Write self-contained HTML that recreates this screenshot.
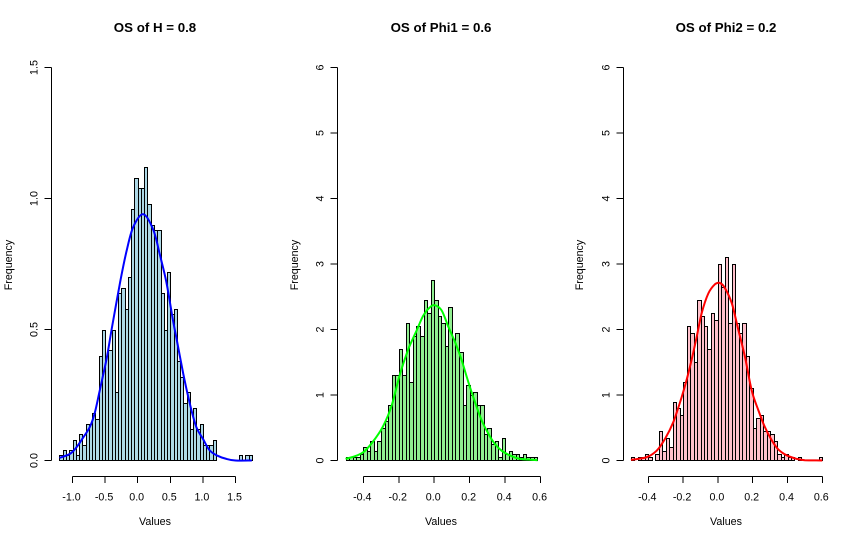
<!DOCTYPE html>
<html>
<head>
<meta charset="utf-8">
<title>OS histograms</title>
<style>
html,body{margin:0;padding:0;background:#fff;}
svg{display:block;}
text{font-family:"Liberation Sans",Arial,sans-serif;fill:#000;}
</style>
</head>
<body>
<svg id="chart" xmlns="http://www.w3.org/2000/svg" width="857" height="541" viewBox="0 0 857 541"></svg>
<script>
var hStartBin = -1.2;
var hBinWidth = 0.05;
var hValues = [0.02,0.04,0.02,0.04,0.08,0.02,0.10,0.06,0.14,0.14,0.18,0.16,0.40,0.50,0.40,0.42,0.50,0.26,0.64,0.66,0.58,0.70,0.96,1.08,1.04,1.04,1.12,0.98,0.90,0.88,0.88,0.64,0.50,0.72,0.56,0.58,0.38,0.32,0.22,0.26,0.12,0.20,0.12,0.14,0.06,0.06,0.06,0.08,0,0,0,0,0,0,0,0.02,0,0.02,0.02];
var hCurveX = [-1.2,-1.04,-0.94,-0.83,-0.73,-0.655,-0.58,-0.476,-0.4,-0.27,-0.17,-0.07,0.086,0.24,0.34,0.44,0.545,0.6,0.7,0.8,0.9,1.0,1.1,1.21,1.36,1.5,1.75];
var hCurveY = [0.01,0.025,0.05,0.09,0.13,0.185,0.27,0.39,0.5,0.68,0.8,0.89,0.94,0.88,0.785,0.68,0.53,0.46,0.33,0.216,0.127,0.083,0.04,0.02,0.006,0,0];
var hXTicks = [-1.0,-0.5,0.0,0.5,1.0,1.5];
var hYTicks = [0,0.5,1.0,1.5];

var p1StartBin = -0.5;
var p1BinWidth = 0.02;
var p1Values = [0.05,0.05,0.05,0.05,0.10,0.20,0.15,0.30,0.15,0.30,0.50,0.60,0.85,1.30,1.30,1.70,1.30,2.10,1.20,1.90,2.05,1.90,2.45,2.25,2.75,2.45,2.20,2.10,1.75,2.35,1.85,1.95,1.65,0.85,1.15,1.00,1.05,0.85,0.85,0.40,0.50,0.25,0.30,0.05,0.35,0.10,0.15,0.10,0.10,0.05,0.10,0.05,0.05,0.05];
var p1CurveX = [-0.5,-0.437,-0.39,-0.334,-0.287,-0.24,-0.193,-0.146,-0.1,-0.062,-0.024,0.004,0.042,0.08,0.117,0.155,0.192,0.23,0.268,0.305,0.343,0.38,0.418,0.474,0.53,0.583];
var p1CurveY = [0.025,0.075,0.15,0.33,0.53,0.84,1.32,1.70,1.98,2.21,2.34,2.37,2.29,2.04,1.81,1.53,1.20,0.89,0.61,0.41,0.25,0.15,0.09,0.03,0.015,0.005];
var p1XTicks = [-0.4,-0.2,0.0,0.2,0.4,0.6];
var p1YTicks = [0,1,2,3,4,5,6];

var p2StartBin = -0.5;
var p2BinWidth = 0.02;
var p2Values = [0.05,0,0.05,0.05,0.10,0.05,0,0.10,0.45,0.15,0.35,0.20,0.90,0.80,0.70,1.20,2.05,1.95,1.50,2.45,2.20,2.05,1.70,2.25,2.15,3.00,2.65,3.10,2.10,3.00,2.10,1.95,2.10,1.60,1.10,0.50,0.65,0.70,0.45,0.45,0.40,0.30,0.10,0.05,0.10,0.05,0.05,0,0.05,0,0,0,0,0,0.05];
var p2CurveX = [-0.5,-0.41,-0.352,-0.304,-0.256,-0.208,-0.17,-0.132,-0.093,-0.055,-0.017,0.012,0.041,0.08,0.118,0.156,0.194,0.232,0.27,0.309,0.347,0.395,0.453,0.5,0.6];
var p2CurveY = [0.01,0.05,0.15,0.33,0.59,0.97,1.33,1.76,2.25,2.55,2.69,2.71,2.63,2.40,1.99,1.58,1.07,0.77,0.51,0.31,0.17,0.08,0.025,0.005,0];
var p2XTicks = [-0.4,-0.2,0.0,0.2,0.4,0.6];
var p2YTicks = [0,1,2,3,4,5,6];

var svg = document.getElementById('chart');
var NS = 'http://www.w3.org/2000/svg';

function mk(tag, attrs, parent) {
  var el = document.createElementNS(NS, tag);
  for (var k in attrs) el.setAttribute(k, attrs[k]);
  (parent || svg).appendChild(el);
  return el;
}

function tickFmt(v, digits) {
  return v.toFixed(digits);
}

function smoothPath(pts) {
  var d = 'M' + pts[0][0].toFixed(1) + ' ' + pts[0][1].toFixed(1);
  for (var i = 0; i < pts.length - 1; i++) {
    var p0 = pts[Math.max(i - 1, 0)];
    var p1 = pts[i];
    var p2 = pts[i + 1];
    var p3 = pts[Math.min(i + 2, pts.length - 1)];
    var c1x = p1[0] + (p2[0] - p0[0]) / 6;
    var c1y = p1[1] + (p2[1] - p0[1]) / 6;
    var c2x = p2[0] - (p3[0] - p1[0]) / 6;
    var c2y = p2[1] - (p3[1] - p1[1]) / 6;
    d += 'C' + c1x.toFixed(1) + ' ' + c1y.toFixed(1) + ' ' + c2x.toFixed(1) + ' ' + c2y.toFixed(1) + ' ' + p2[0].toFixed(1) + ' ' + p2[1].toFixed(1);
  }
  return d;
}

function drawPanel(cfg) {
  var g = mk('g', {});
  
  

  function sx(v) { return cfg.x0 + (v - cfg.xRef) * cfg.xScale; }
  function sy(v) { return 460.5 - v * cfg.yScale; }

  cfg.values.forEach(function (v, i) {
    var a = sx(cfg.start + i * cfg.width);
    var b = sx(cfg.start + (i + 1) * cfg.width);
    var bar = mk('rect', {
      x: Math.round(a) + 0.5,
      y: Math.round(sy(v)) + 0.5,
      width: Math.max(Math.round(b) - Math.round(a), 1),
      height: 460 - Math.round(sy(v)),
      fill: cfg.fill,
      stroke: '#000',
      'stroke-width': 1,
      'shape-rendering': 'crispEdges'
    }, g);
    
    
  });

  var pts = cfg.curveX.map(function (x, i) {
    return [sx(x), sy(cfg.curveY[i])];
  });
  var curve = mk('path', {
    d: smoothPath(pts),
    fill: 'none',
    stroke: cfg.line,
    'stroke-width': 2,
    'stroke-linejoin': 'round'
  }, g);
  
  

  var axX = mk('g', {stroke: '#000', 'stroke-width': 1, 'shape-rendering': 'crispEdges'}, g);
  
  
  mk('line', {x1: sx(cfg.xTicks[0]), x2: sx(cfg.xTicks[cfg.xTicks.length - 1]), y1: 476.5, y2: 476.5}, axX);
  cfg.xTicks.forEach(function (t) {
    mk('line', {x1: sx(t), x2: sx(t), y1: 476.5, y2: 483}, axX);
    var lab = mk('text', {x: sx(t) - 1, y: 500.5, 'text-anchor': 'middle', 'font-size': 10.7}, g);
    lab.textContent = tickFmt(t, 1);
    
    
  });

  var axY = mk('g', {stroke: '#000', 'stroke-width': 1, 'shape-rendering': 'crispEdges'}, g);
  
  
  mk('line', {x1: cfg.axisX, x2: cfg.axisX, y1: sy(cfg.yTicks[0]), y2: sy(cfg.yTicks[cfg.yTicks.length - 1])}, axY);
  cfg.yTicks.forEach(function (t) {
    mk('line', {x1: cfg.axisX - 7, x2: cfg.axisX, y1: sy(t), y2: sy(t)}, axY);
    var tx = cfg.axisX - 14;
    var lab = mk('text', {
      x: tx, y: sy(t), 'text-anchor': 'middle', 'font-size': 10.7,
      transform: 'rotate(-90 ' + tx + ' ' + sy(t) + ')'
    }, g);
    lab.textContent = tickFmt(t, cfg.yDigits);
    
    
  });

  var title = mk('text', {x: cfg.cx, y: 32, 'text-anchor': 'middle', 'font-size': 13.3, 'font-weight': 'bold'}, g);
  title.textContent = cfg.title;
  
  

  var xt = mk('text', {x: cfg.cx, y: 525, 'text-anchor': 'middle', 'font-size': 10.7}, g);
  xt.textContent = 'Values';
  
  

  var yt = mk('text', {
    x: cfg.ylabX, y: 265, 'text-anchor': 'middle', 'font-size': 10.7,
    transform: 'rotate(-90 ' + cfg.ylabX + ' 265)'
  }, g);
  yt.textContent = 'Frequency';
  
  
}

drawPanel({key: 'h', title: 'OS of H = 0.8', values: hValues, start: hStartBin, width: hBinWidth,
  curveX: hCurveX, curveY: hCurveY, xTicks: hXTicks, yTicks: hYTicks, yDigits: 1,
  x0: 72.5, xRef: -1.0, xScale: 65.2, yScale: 262, axisX: 51.5, cx: 155, ylabX: 12,
  fill: '#ADD8E6', line: '#0000FF'});
drawPanel({key: 'phi1', title: 'OS of Phi1 = 0.6', values: p1Values, start: p1StartBin, width: p1BinWidth,
  curveX: p1CurveX, curveY: p1CurveY, xTicks: p1XTicks, yTicks: p1YTicks, yDigits: 0,
  x0: 363.3, xRef: -0.4, xScale: 177.3, yScale: 65.5, axisX: 337.5, cx: 441, ylabX: 298,
  fill: '#90EE90', line: '#00FF00'});
drawPanel({key: 'phi2', title: 'OS of Phi2 = 0.2', values: p2Values, start: p2StartBin, width: p2BinWidth,
  curveX: p2CurveX, curveY: p2CurveY, xTicks: p2XTicks, yTicks: p2YTicks, yDigits: 0,
  x0: 648.3, xRef: -0.4, xScale: 174, yScale: 65.5, axisX: 623.5, cx: 726, ylabX: 583,
  fill: '#FFC0CB', line: '#FF0000'});
</script>
</body>
</html>
